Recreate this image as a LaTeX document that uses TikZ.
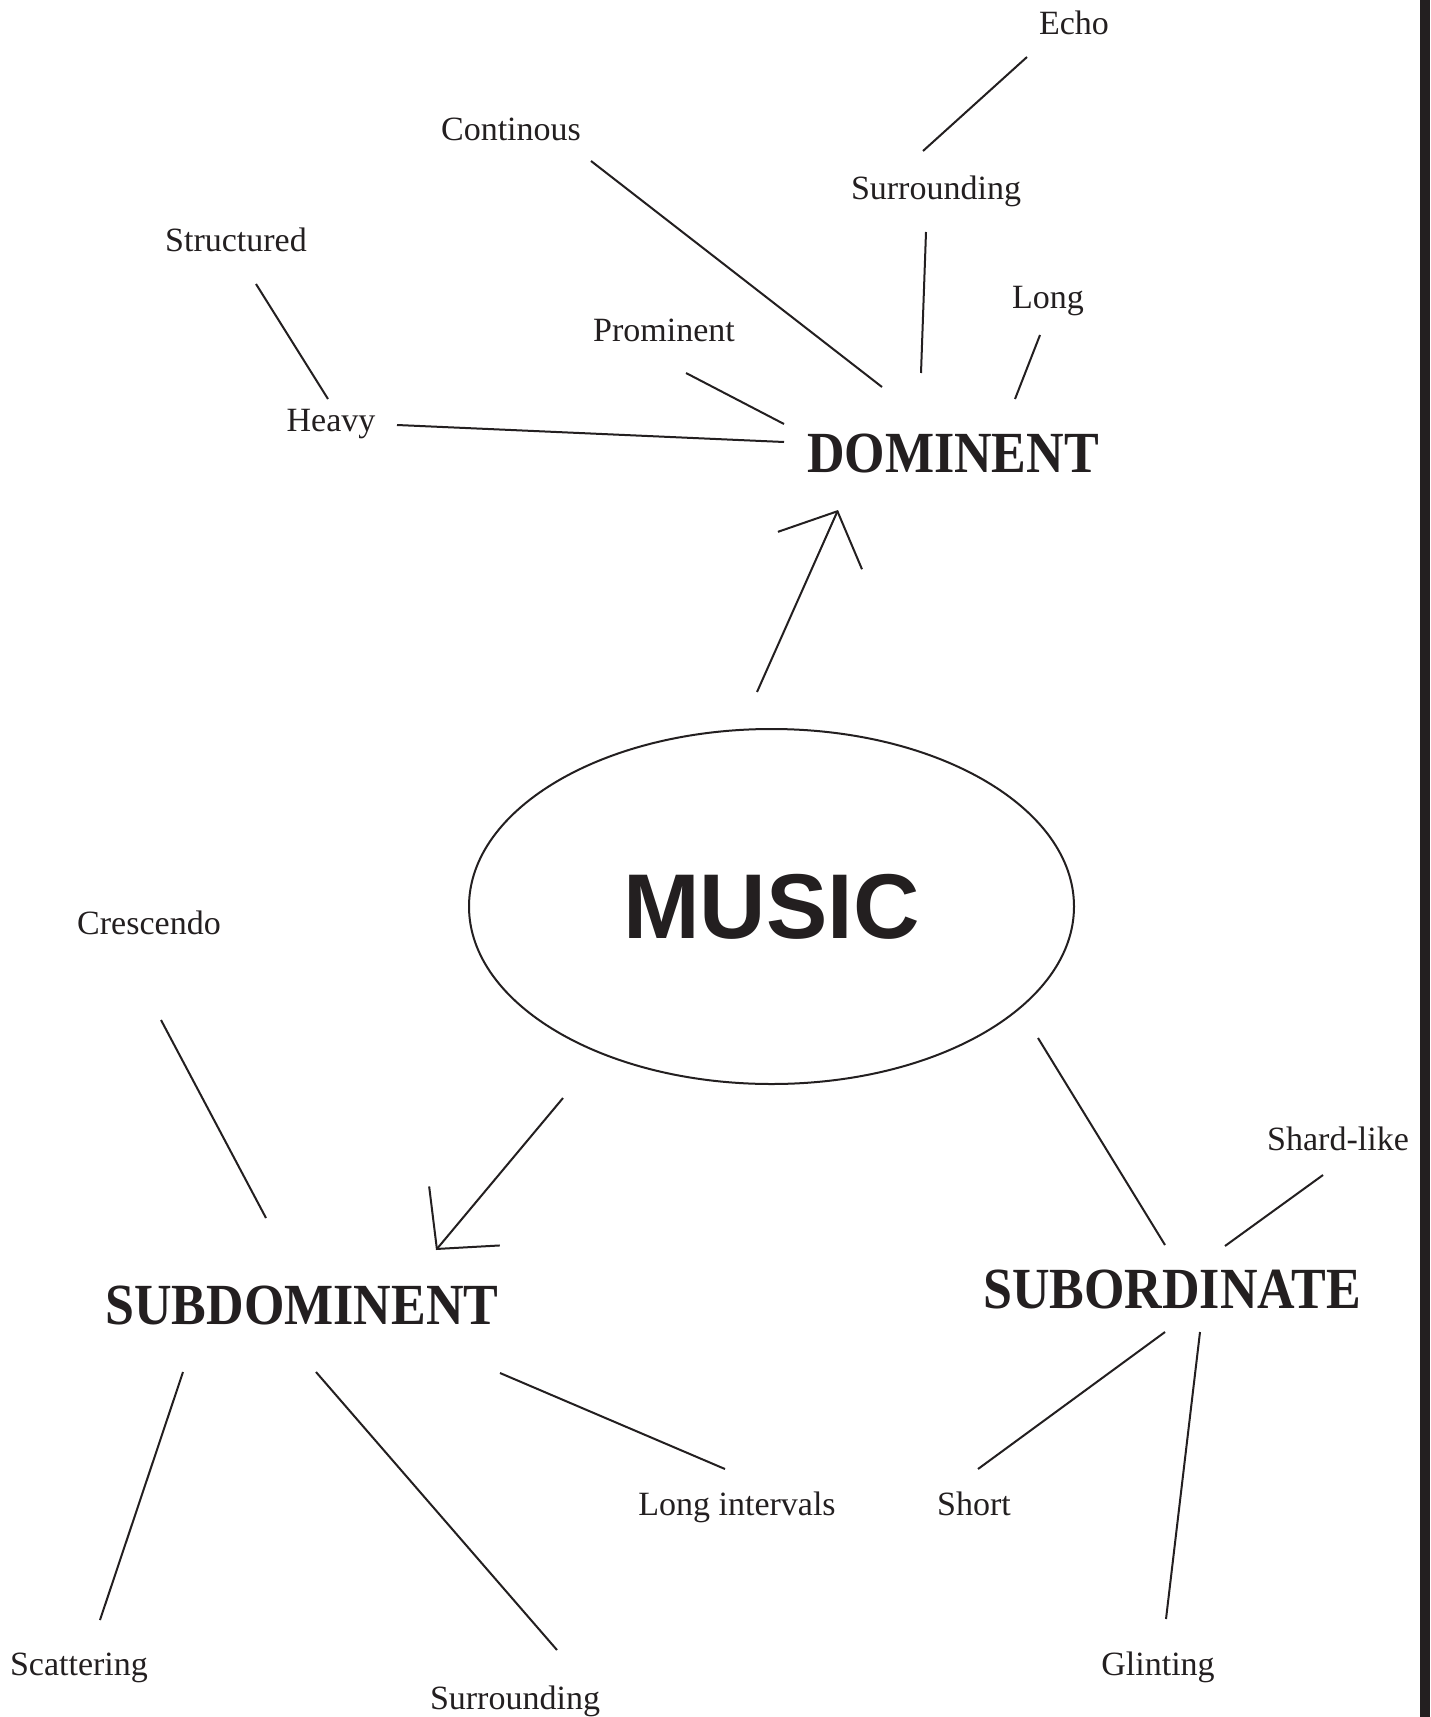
\documentclass[tikz,border=0pt]{standalone}
\usepackage{fontspec}
\setmainfont{Liberation Serif}
\newfontfamily\hubsans{Liberation Sans}
\usetikzlibrary{arrows.meta,shapes.geometric}
\definecolor{ink}{HTML}{231F20}
\newcommand\hubtxt[1]{\scalebox{1}[1.12]{#1}}
\begin{document}
\begin{tikzpicture}[x=0.5pt,y=-0.5pt,
  leaf/.style={font=\fontsize{17}{20}\selectfont, inner sep=0pt, anchor=base, text=ink},
  hub/.style={font=\fontsize{26}{30}\selectfont\bfseries, inner sep=0pt, text=ink},
  link/.style={line width=1pt, draw=ink},
  arr/.style={link, -{Straight Barb[length=21.5pt,width=46pt,line width=1pt]}}]
\useasboundingbox (0,0) rectangle (1430,1717);
\fill[white] (0,0) rectangle (1430,1717);
\fill[ink] (1420,0) rectangle (1430,1717);

% central node
\node (music) [draw=ink, line width=1pt, ellipse, minimum width=302.5pt, minimum height=177.5pt, inner sep=0pt,
  font=\hubsans\bfseries\fontsize{46}{50}\selectfont, text=ink] at (771.5,906.5) {MUSIC};

% hubs
\node (dom) [hub] at (953,454) {\hubtxt{DOMINENT}};
\node (subd) [hub] at (302,1305) {\hubtxt{SUBDOMINENT}};
\node (subo) [hub] at (1172,1289) {\hubtxt{SUBORDINATE}};

% leaves
\node (echo) [leaf] at (1074,35) {Echo};
\node (cont) [leaf] at (511,141) {Continous};
\node (surrt) [leaf] at (936,200) {Surrounding};
\node (struct) [leaf] at (236,252) {Structured};
\node (long) [leaf] at (1048,309) {Long};
\node (prom) [leaf] at (664,342) {Prominent};
\node (heavy) [leaf] at (331,431) {Heavy};
\node (cresc) [leaf] at (149,934) {Crescendo};
\node (shard) [leaf] at (1338,1150) {Shard-like};
\node (longint) [leaf] at (737,1515) {Long intervals};
\node (short) [leaf] at (974,1515) {Short};
\node (scat) [leaf] at (79,1675) {Scattering};
\node (glint) [leaf] at (1158,1675) {Glinting};
\node (surrb) [leaf] at (515,1709) {Surrounding};

% connector end points
\coordinate (echo-a) at (1027,57);   \coordinate (surrt-b) at (923,151);
\coordinate (cont-a) at (591,161);   \coordinate (dom-c) at (882,387);
\coordinate (surrt-a) at (926,232);  \coordinate (dom-s) at (921,373);
\coordinate (struct-a) at (256,284); \coordinate (heavy-b) at (328,399);
\coordinate (long-a) at (1040,335);  \coordinate (dom-l) at (1015,399);
\coordinate (prom-a) at (686,373);   \coordinate (dom-p) at (784,424);
\coordinate (heavy-a) at (397,425);  \coordinate (dom-h) at (784,442);
\coordinate (music-n) at (757,692);  \coordinate (dom-m) at (838,510);
\coordinate (cresc-a) at (161,1020); \coordinate (subd-c) at (266,1218);
\coordinate (music-sw) at (563,1098); \coordinate (subd-m) at (436,1250);
\coordinate (music-se) at (1038,1038); \coordinate (subo-m) at (1165,1245);
\coordinate (shard-a) at (1323,1175); \coordinate (subo-s) at (1225,1246);
\coordinate (subo-a) at (1165,1332); \coordinate (short-a) at (978,1469);
\coordinate (subo-b) at (1200,1332); \coordinate (glint-a) at (1166,1619);
\coordinate (subd-a) at (183,1372);  \coordinate (scat-a) at (100,1620);
\coordinate (subd-b) at (316,1372);  \coordinate (surrb-a) at (557,1650);
\coordinate (subd-e) at (500,1373);  \coordinate (longint-a) at (725,1469);

% connectors
\draw[link] (echo-a) -- (surrt-b);
\draw[link] (cont-a) -- (dom-c);
\draw[link] (surrt-a) -- (dom-s);
\draw[link] (struct-a) -- (heavy-b);
\draw[link] (long-a) -- (dom-l);
\draw[link] (prom-a) -- (dom-p);
\draw[link] (heavy-a) -- (dom-h);
\draw[arr] (music-n) -- (dom-m);
\draw[link] (cresc-a) -- (subd-c);
\draw[arr] (music-sw) -- (subd-m);
\draw[link] (music-se) -- (subo-m);
\draw[link] (shard-a) -- (subo-s);
\draw[link] (subo-a) -- (short-a);
\draw[link] (subo-b) -- (glint-a);
\draw[link] (subd-a) -- (scat-a);
\draw[link] (subd-b) -- (surrb-a);
\draw[link] (subd-e) -- (longint-a);
\end{tikzpicture}
\end{document}
